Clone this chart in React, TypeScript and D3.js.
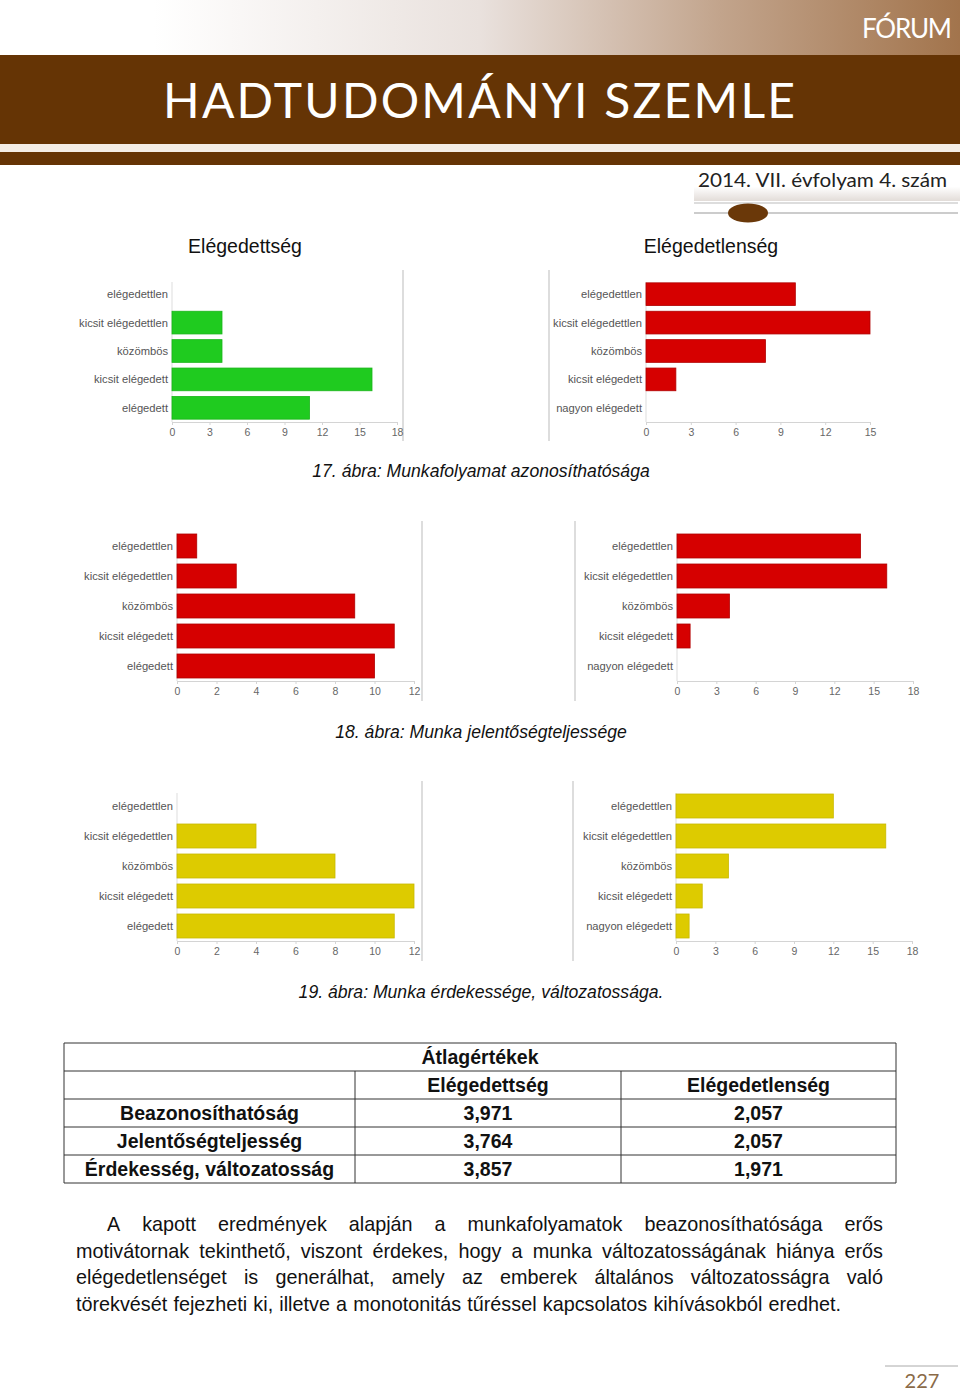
import { useRef, useEffect } from 'react';
import * as d3 from 'd3';

const leftCategories = ['elégedettlen', 'kicsit elégedettlen', 'közömbös', 'kicsit elégedett', 'elégedett'];
const rightCategories = ['elégedettlen', 'kicsit elégedettlen', 'közömbös', 'kicsit elégedett', 'nagyon elégedett'];

// 17. ábra
const fig17Satisfied = [0, 4, 4, 16, 11];
const fig17Unsatisfied = [10, 15, 8, 2, 0];
// 18. ábra
const fig18Satisfied = [1, 3, 9, 11, 10];
const fig18Unsatisfied = [14, 16, 4, 1, 0];
// 19. ábra
const fig19Satisfied = [0, 4, 8, 12, 11];
const fig19Unsatisfied = [12, 16, 4, 2, 1];

const ticks18 = [0, 3, 6, 9, 12, 15, 18];
const ticks15 = [0, 3, 6, 9, 12, 15];
const ticks12 = [0, 2, 4, 6, 8, 10, 12];

const columnTitles = ['Elégedettség', 'Elégedetlenség'];
const captions = [
    '17. ábra: Munkafolyamat azonosíthatósága',
    '18. ábra: Munka jelentőségteljessége',
    '19. ábra: Munka érdekessége, változatossága.'
];

const tableTitle = 'Átlagértékek';
const tableRows = ['Beazonosíthatóság', 'Jelentőségteljesség', 'Érdekesség, változatosság'];
const tableSatisfied = ['3,971', '3,764', '3,857'];
const tableUnsatisfied = ['2,057', '2,057', '1,971'];

const paragraphLines = [
    'A kapott eredmények alapján a munkafolyamatok beazonosíthatósága erős',
    'motivátornak tekinthető, viszont érdekes, hogy a munka változatosságának hiánya erős',
    'elégedetlenséget is generálhat, amely az emberek általános változatosságra való',
    'törekvését fejezheti ki, illetve a monotonitás tűréssel kapcsolatos kihívásokból eredhet.'
];

const GREEN = '#1fcb1f';
const RED = '#d60000';
const YELLOW = '#ddcb00';
const BROWN = '#653405';
const SANS = 'Liberation Sans, Arial, sans-serif';

const App = () => {
    const svgRef = useRef<SVGSVGElement | null>(null);

    const renderPage = () => {
        const svgElement = svgRef.current;
        if (!svgElement) return;
        const width = 960;
        const height = 1391;
        const svg = d3.select(svgElement).attr('width', width).attr('height', height);
        svg.selectAll('*').remove();

        svg.append('rect').attr('width', width).attr('height', height).attr('fill', '#fff');

        // ---- header ----
        const defs = svg.append('defs');
        const grad = defs.append('linearGradient').attr('id', 'topGrad');
        [['0%', '#ffffff'], ['16%', '#ffffff'], ['50%', '#e9e1dd'], ['75%', '#c2a48c'], ['100%', '#a2744c']]
            .forEach(([o, c]) => grad.append('stop').attr('offset', o).attr('stop-color', c));
        const grad2 = defs.append('linearGradient').attr('id', 'issueGrad')
            .attr('x1', 0).attr('y1', 0).attr('x2', 0).attr('y2', 1);
        [['0%', '#ffffff'], ['60%', '#ffffff'], ['100%', '#e2dcd8']]
            .forEach(([o, c]) => grad2.append('stop').attr('offset', o).attr('stop-color', c));

        svg.append('rect').attr('x', 0).attr('y', 0).attr('width', width).attr('height', 55).attr('fill', 'url(#topGrad)');
        svg.append('text').attr('x', 952).attr('y', 38).attr('text-anchor', 'end')
            .attr('textLength', 90).attr('lengthAdjust', 'spacing')
            .style('font-family', 'Lato, sans-serif').style('font-size', '26px').style('fill', '#fff')
            .text('FÓRUM');
        svg.append('rect').attr('x', 0).attr('y', 55).attr('width', width).attr('height', 89).attr('fill', BROWN);
        svg.append('rect').attr('x', 0).attr('y', 144).attr('width', width).attr('height', 8).attr('fill', '#f4ede6');
        svg.append('rect').attr('x', 0).attr('y', 152).attr('width', width).attr('height', 13).attr('fill', BROWN);
        svg.append('text').attr('x', 163).attr('y', 118)
            .attr('textLength', 632).attr('lengthAdjust', 'spacing')
            .style('font-family', 'Lato, sans-serif').style('font-size', '48px').style('fill', '#fff')
            .text('HADTUDOMÁNYI SZEMLE');

        svg.append('rect').attr('x', 694).attr('y', 165).attr('width', 266).attr('height', 36).attr('fill', 'url(#issueGrad)');
        svg.append('text').attr('x', 947).attr('y', 187).attr('text-anchor', 'end')
            .attr('textLength', 249).attr('lengthAdjust', 'spacingAndGlyphs')
            .style('font-family', 'Lato, sans-serif').style('font-size', '20px').style('fill', '#222')
            .text('2014. VII. évfolyam 4. szám');
        svg.append('line').attr('x1', 694).attr('x2', 958).attr('y1', 203).attr('y2', 203)
            .attr('stroke', '#bbb').attr('stroke-width', 1);
        svg.append('line').attr('x1', 694).attr('x2', 958).attr('y1', 213).attr('y2', 213)
            .attr('stroke', '#999').attr('stroke-width', 1);
        svg.append('ellipse').attr('cx', 748).attr('cy', 213).attr('rx', 20).attr('ry', 9.5).attr('fill', '#6a3809');

        // column titles
        [245, 711].forEach((cx, i) => {
            svg.append('text').attr('x', cx).attr('y', 253).attr('text-anchor', 'middle')
                .style('font-family', SANS).style('font-size', '19.5px').style('fill', '#111')
                .text(columnTitles[i]);
        });

        // ---- bar charts ----
        type Spec = {
            cats: string[]; values: number[]; ticks: number[]; color: string; stroke: string;
            x0: number; x1: number; top: number; bottom: number;
            frameX: number; frameTop: number; frameBottom: number;
        };

        const drawChart = (s: Spec) => {
            const g = svg.append('g');
            const max = s.ticks[s.ticks.length - 1];
            const x = d3.scaleLinear().domain([0, max]).range([s.x0, s.x1]);
            const y = d3.scaleBand<string>().domain(s.cats).range([s.top, s.bottom])
                .paddingInner(0.2).paddingOuter(0.1);

            g.append('line').attr('x1', s.frameX).attr('x2', s.frameX)
                .attr('y1', s.frameTop).attr('y2', s.frameBottom)
                .attr('stroke', '#bbb').attr('stroke-width', 1);

            g.append('line').attr('x1', s.x0).attr('x2', s.x0)
                .attr('y1', s.top + 2).attr('y2', s.bottom)
                .attr('stroke', '#ddd').attr('stroke-width', 1);

            const xAxis = g.append('g')
                .attr('transform', `translate(0, ${s.bottom})`)
                .call(d3.axisBottom(x).tickValues(s.ticks).tickSize(3).tickSizeOuter(0).tickPadding(4));
            xAxis.selectAll('path, line').attr('stroke', '#d4d4d4').attr('stroke-width', 1);
            xAxis.selectAll('text')
                .attr('fill', '#666')
                .style('font-family', SANS)
                .style('font-size', '10.5px');

            const rows = s.cats.map((c, i) => ({ cat: c, value: s.values[i] })).filter(d => d.value > 0);

            g.selectAll('rect.bar')
                .data(rows)
                .enter()
                .append('rect')
                .attr('class', 'bar')
                .attr('x', x(0))
                .attr('y', d => y(d.cat) as number)
                .attr('width', d => x(d.value) - x(0))
                .attr('height', y.bandwidth())
                .attr('fill', s.color)
                .attr('stroke', s.stroke)
                .attr('stroke-width', 0.8);

            s.cats.forEach(c => {
                g.append('text')
                    .attr('x', s.x0 - 4)
                    .attr('y', (y(c) as number) + y.bandwidth() / 2 + 4)
                    .attr('text-anchor', 'end')
                    .style('font-family', SANS)
                    .style('font-size', '11.2px')
                    .style('fill', '#555')
                    .text(c);
            });
        };

        const charts: Spec[] = [
            { cats: leftCategories, values: fig17Satisfied, ticks: ticks18, color: GREEN, stroke: '#19b519',
              x0: 172, x1: 397, top: 280, bottom: 422, frameX: 403, frameTop: 270, frameBottom: 441 },
            { cats: rightCategories, values: fig17Unsatisfied, ticks: ticks15, color: RED, stroke: '#b00000',
              x0: 646, x1: 870, top: 280, bottom: 422, frameX: 549, frameTop: 270, frameBottom: 441 },
            { cats: leftCategories, values: fig18Satisfied, ticks: ticks12, color: RED, stroke: '#b00000',
              x0: 177, x1: 414, top: 531, bottom: 681, frameX: 422, frameTop: 521, frameBottom: 701 },
            { cats: rightCategories, values: fig18Unsatisfied, ticks: ticks18, color: RED, stroke: '#b00000',
              x0: 677, x1: 913, top: 531, bottom: 681, frameX: 575, frameTop: 521, frameBottom: 701 },
            { cats: leftCategories, values: fig19Satisfied, ticks: ticks12, color: YELLOW, stroke: '#c9b800',
              x0: 177, x1: 414, top: 791, bottom: 941, frameX: 422, frameTop: 781, frameBottom: 961 },
            { cats: rightCategories, values: fig19Unsatisfied, ticks: ticks18, color: YELLOW, stroke: '#c9b800',
              x0: 676, x1: 912, top: 791, bottom: 941, frameX: 573, frameTop: 781, frameBottom: 961 },
        ];
        charts.forEach(drawChart);

        [477, 738, 998].forEach((yy, i) => {
            svg.append('text').attr('x', 481).attr('y', yy).attr('text-anchor', 'middle')
                .style('font-family', SANS).style('font-size', '17.6px')
                .style('font-style', 'italic').style('fill', '#111')
                .text(captions[i]);
        });

        // ---- table ----
        const tx = [64, 355, 621, 896];
        const ty = [1043, 1071, 1099, 1127, 1155, 1183];
        const tg = svg.append('g');
        ty.forEach(yy => tg.append('line').attr('x1', tx[0]).attr('x2', tx[3]).attr('y1', yy).attr('y2', yy)
            .attr('stroke', '#333').attr('stroke-width', 1));
        tg.append('line').attr('x1', tx[0]).attr('x2', tx[0]).attr('y1', ty[0]).attr('y2', ty[5]).attr('stroke', '#333');
        tg.append('line').attr('x1', tx[3]).attr('x2', tx[3]).attr('y1', ty[0]).attr('y2', ty[5]).attr('stroke', '#333');
        [tx[1], tx[2]].forEach(xx => tg.append('line').attr('x1', xx).attr('x2', xx).attr('y1', ty[1]).attr('y2', ty[5])
            .attr('stroke', '#333'));

        const cell = (cx: number, cy: number, t: string) => tg.append('text')
            .attr('x', cx).attr('y', cy + 21).attr('text-anchor', 'middle')
            .style('font-family', SANS).style('font-size', '19.5px')
            .style('font-weight', 'bold').style('fill', '#111').text(t);

        cell(480, ty[0], tableTitle);
        cell((tx[1] + tx[2]) / 2, ty[1], columnTitles[0]);
        cell((tx[2] + tx[3]) / 2, ty[1], columnTitles[1]);
        tableRows.forEach((r, i) => {
            cell((tx[0] + tx[1]) / 2, ty[i + 2], r);
            cell((tx[1] + tx[2]) / 2, ty[i + 2], tableSatisfied[i]);
            cell((tx[2] + tx[3]) / 2, ty[i + 2], tableUnsatisfied[i]);
        });

        // ---- justified paragraph ----
        const baselines = [1231, 1258, 1284, 1311];
        paragraphLines.forEach((line, li) => {
            const startX = li === 0 ? 107 : 76;
            const endX = 883;
            const words = line.split(' ');
            const nodes = words.map(w => svg.append('text')
                .attr('y', baselines[li])
                .style('font-family', SANS).style('font-size', '19.8px')
                .style('fill', '#111').text(w));
            const widths = nodes.map(n => (n.node() as SVGTextElement).getComputedTextLength());
            const total = widths.reduce((a, b) => a + b, 0);
            const last = li === paragraphLines.length - 1;
            const gap = last ? 6.2 : (endX - startX - total) / (words.length - 1);
            let cx = startX;
            nodes.forEach((n, i) => {
                n.attr('x', cx);
                cx += widths[i] + gap;
            });
        });

        // ---- footer ----
        svg.append('line').attr('x1', 885).attr('x2', 958).attr('y1', 1366).attr('y2', 1366)
            .attr('stroke', '#aaa').attr('stroke-width', 1);
        svg.append('text').attr('x', 922).attr('y', 1388).attr('text-anchor', 'middle')
            .style('font-family', 'Lato, sans-serif').style('font-size', '20px').style('fill', '#8a6a48')
            .text('227');
    };

    useEffect(() => {
        document.body.style.margin = '0';
        renderPage();
    }, []);

    return (
        <div style={{ position: 'absolute', left: 0, top: 0, width: 960, height: 1391 }}>
            <svg ref={svgRef} style={{ display: 'block' }}></svg>
        </div>
    );
};

export default App;
